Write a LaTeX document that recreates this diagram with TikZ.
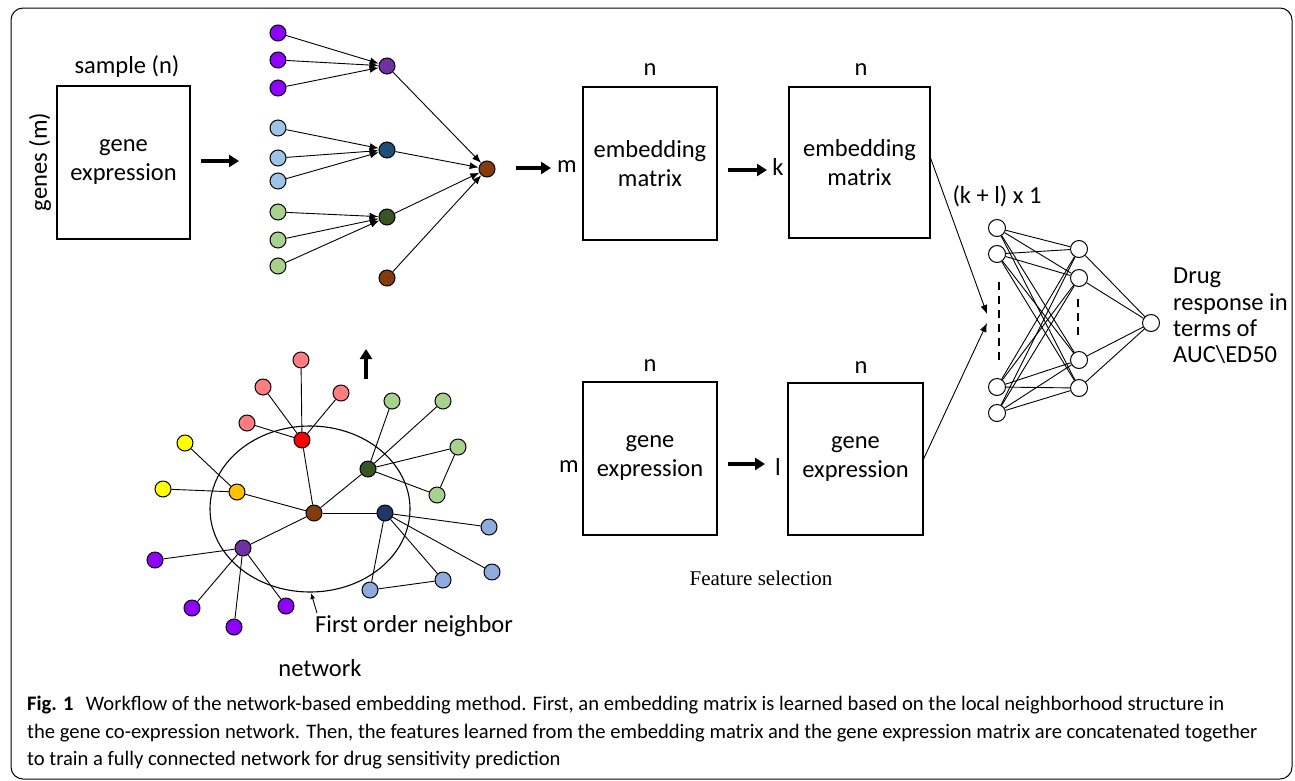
\documentclass[tikz,border=0pt]{standalone}
\usepackage{fontspec}
\setmainfont{Carlito}
\newfontfamily\serifface{Liberation Serif}
\usetikzlibrary{arrows.meta}

\definecolor{violetleaf}{HTML}{9000FF}
\definecolor{purplehub}{HTML}{7030A0}
\definecolor{skyleaf}{HTML}{9DC3E6}
\definecolor{bluehub}{HTML}{1F4E79}
\definecolor{mintleaf}{HTML}{A9D18E}
\definecolor{greenhub}{HTML}{375623}
\definecolor{brownhub}{HTML}{843C0C}
\definecolor{pinkleaf}{HTML}{FF7C80}
\definecolor{yellowleaf}{HTML}{FFFF00}
\definecolor{orangehub}{HTML}{FFC000}
\definecolor{steelleaf}{HTML}{8FAADC}
\definecolor{navyhub}{HTML}{203864}

\tikzset{
  dot/.style={circle, draw=black, line width=1pt, minimum size=16pt, inner sep=0pt},
  matbox/.style={draw=black, line width=1.1pt, inner sep=0pt},
  txt/.style={font=\fontsize{24.5}{29}\selectfont, inner sep=0pt, align=center},
  bigarrow/.style={line width=3.6pt, -{Triangle[length=10pt,width=12pt]}},
  feed/.style={line width=0.9pt, -{Latex[length=9pt,width=7pt]}},
  link/.style={line width=0.9pt},
  neuron/.style={circle, draw=black, line width=1pt, minimum size=17pt, inner sep=0pt, fill=white},
  captext/.style={font=\fontsize{20.6}{24}\selectfont, inner sep=0pt, anchor=west}
}

\begin{document}
\begin{tikzpicture}[x=1pt, y=-1pt]
\useasboundingbox (0,0) rectangle (1295,780);
\draw[line width=1pt, rounded corners=12pt] (11,8) rectangle (1292,779);

% ---------- input matrix ----------
\node[matbox, minimum width=133pt, minimum height=153pt] (gx) at (123.5,162.5) {};
\node[txt] at (gx.center) {gene\\expression};
\node[txt] (samp) at (127,67) {sample (n)};
\node[txt, rotate=90] (genes) at (40,162) {genes (m)};
\coordinate (a1s) at (201,161);
\coordinate (a1e) at (239,161);
\draw[bigarrow] (a1s) -- (a1e);

% ---------- aggregation tree ----------
\node[dot, fill=violetleaf] (p1) at (278,33) {};
\node[dot, fill=violetleaf] (p2) at (278,60) {};
\node[dot, fill=violetleaf] (p3) at (278,88) {};
\node[dot, fill=skyleaf] (b1) at (278,128) {};
\node[dot, fill=skyleaf] (b2) at (278,158) {};
\node[dot, fill=skyleaf] (b3) at (278,181) {};
\node[dot, fill=mintleaf] (g1) at (278,212) {};
\node[dot, fill=mintleaf] (g2) at (278,240) {};
\node[dot, fill=mintleaf] (g3) at (278,266) {};
\node[dot, fill=purplehub] (ph) at (387,66) {};
\node[dot, fill=bluehub] (bh) at (387,150) {};
\node[dot, fill=greenhub] (gh) at (387,217) {};
\node[dot, fill=brownhub] (rh) at (387,278) {};
\node[dot, fill=brownhub] (root) at (487,169) {};
\foreach \s/\t in {p1/ph,p2/ph,p3/ph,b1/bh,b2/bh,b3/bh,g1/gh,g2/gh,g3/gh,ph/root,bh/root,gh/root,rh/root}
  \draw[feed] (\s) -- (\t);

\coordinate (a2s) at (516,168);
\coordinate (a2e) at (551,168);
\draw[bigarrow] (a2s) -- (a2e);

% ---------- embedding matrices ----------
\node[matbox, minimum width=134pt, minimum height=153pt] (em1) at (650,163.5) {};
\node[txt] at (em1.center) {embedding\\matrix};
\node[txt] (em1n) at (650,70) {n};
\node[txt] (em1m) at (567,167) {m};
\coordinate (a3s) at (728,170);
\coordinate (a3e) at (767,170);
\draw[bigarrow] (a3s) -- (a3e);
\node[matbox, minimum width=141pt, minimum height=151pt] (em2) at (859.5,162.5) {};
\node[txt] at (em2.center) {embedding\\matrix};
\node[txt] (em2n) at (861,70) {n};
\node[txt] (em2k) at (778,167) {k};

% ---------- gene expression matrices ----------
\node[matbox, minimum width=134pt, minimum height=153pt] (ge1) at (650,458.5) {};
\node[txt] at (ge1.center) {gene\\expression};
\node[txt] (ge1n) at (650,366) {n};
\node[txt] (ge1m) at (569,467) {m};
\coordinate (a4s) at (728,464);
\coordinate (a4e) at (765,464);
\draw[bigarrow] (a4s) -- (a4e);
\node[matbox, minimum width=135pt, minimum height=152pt] (ge2) at (855.5,459) {};
\node[txt] at (ge2.center) {gene\\expression};
\node[txt] (ge2n) at (861,368) {n};
\node[txt] (ge2l) at (778,467) {l};
\node[font=\serifface\fontsize{21}{24}\selectfont, inner sep=0pt] (fs) at (761,578) {Feature selection};

% ---------- fully connected network ----------
\node[txt] (klab) at (997,196) {(k + l) x 1};
\node[neuron] (i1) at (997,228) {};
\node[neuron] (i2) at (997,254) {};
\node[neuron] (i3) at (997,387) {};
\node[neuron] (i4) at (997,413) {};
\node[neuron] (h1) at (1079,249) {};
\node[neuron] (h2) at (1079,278) {};
\node[neuron] (h3) at (1079,360) {};
\node[neuron] (h4) at (1079,388) {};
\node[neuron] (out) at (1151,323) {};
\foreach \i in {1,...,4}{
  \foreach \j in {1,...,4}
    \draw[link] (i\i) -- (h\j);
  \draw[link] (h\i) -- (out);
}
\coordinate (d1a) at (999,282);
\coordinate (d1b) at (999,360);
\draw[line width=2pt, dash pattern=on 8pt off 6pt] (d1a) -- (d1b);
\coordinate (d2a) at (1078,299);
\coordinate (d2b) at (1078,336);
\draw[line width=2pt, dash pattern=on 8pt off 6pt] (d2a) -- (d2b);
\coordinate (e1) at (987,314);
\coordinate (e2) at (987,323);
\draw[feed] (em2.east |- 0,158) -- (e1);
\draw[feed] (ge2.east |- 0,459) -- (e2);
\node[font=\fontsize{24.5}{26.3}\selectfont, inner sep=0pt, align=left, anchor=west] (drug) at (1173,316) {Drug\\response in\\terms of\\AUC\textbackslash ED50};

% ---------- co-expression network ----------
\coordinate (upS) at (366,379);
\coordinate (upE) at (366,349);
\draw[bigarrow] (upS) -- (upE);
\draw[line width=1.1pt] (310,509) ellipse [x radius=100pt, y radius=83pt];

\node[dot, fill=pinkleaf] (k1) at (301,360) {};
\node[dot, fill=pinkleaf] (k2) at (263,387) {};
\node[dot, fill=pinkleaf] (k3) at (341,393) {};
\node[dot, fill=pinkleaf] (k4) at (247,423) {};
\node[dot, fill=red] (red) at (302,440) {};
\node[dot, fill=yellowleaf] (y1) at (185,443) {};
\node[dot, fill=yellowleaf] (y2) at (163,489) {};
\node[dot, fill=orangehub] (org) at (237,492) {};
\node[dot, fill=brownhub] (ctr) at (314,513) {};
\node[dot, fill=greenhub] (dg) at (368,469) {};
\node[dot, fill=mintleaf] (m1) at (392,401) {};
\node[dot, fill=mintleaf] (m2) at (443,401) {};
\node[dot, fill=mintleaf] (m3) at (458,447) {};
\node[dot, fill=mintleaf] (m4) at (437,495) {};
\node[dot, fill=navyhub] (db) at (385,513) {};
\node[dot, fill=steelleaf] (s1) at (489,527) {};
\node[dot, fill=steelleaf] (s2) at (492,572) {};
\node[dot, fill=steelleaf] (s3) at (443,580) {};
\node[dot, fill=steelleaf] (s4) at (370,590) {};
\node[dot, fill=purplehub] (dp) at (243,548) {};
\node[dot, fill=violetleaf] (v1) at (155,560) {};
\node[dot, fill=violetleaf] (v2) at (192,608) {};
\node[dot, fill=violetleaf] (v3) at (234,627) {};
\node[dot, fill=violetleaf] (v4) at (286,606) {};
\foreach \s/\t in {red/k1,red/k2,red/k3,red/k4,red/ctr,org/y1,org/y2,org/ctr,
  dg/ctr,dg/m1,dg/m2,dg/m3,dg/m4,m3/m4,ctr/db,db/s1,db/s2,db/s3,db/s4,s4/s3,
  dp/ctr,dp/v1,dp/v2,dp/v3,dp/v4}
  \draw[link] (\s) -- (\t);

\coordinate (fo1) at (317,613);
\coordinate (fo2) at (311,593);
\draw[line width=0.9pt, -{Latex[length=6pt,width=5pt]}] (fo1) -- (fo2);
\node[txt, anchor=west] (fon) at (315,626) {First order neighbor};
\node[txt] (netw) at (320,668) {network};

% ---------- caption ----------
\node[captext] (c1) at (27,705) {\textbf{Fig. 1}\hspace{0.6em}Workflow of the network-based embedding method. First, an embedding matrix is learned based on the local neighborhood structure in};
\node[captext] (c2) at (27,733) {the gene co-expression network. Then, the features learned from the embedding matrix and the gene expression matrix are concatenated together};
\node[captext] (c3) at (27,760) {to train a fully connected network for drug sensitivity prediction};
\end{tikzpicture}
\end{document}
